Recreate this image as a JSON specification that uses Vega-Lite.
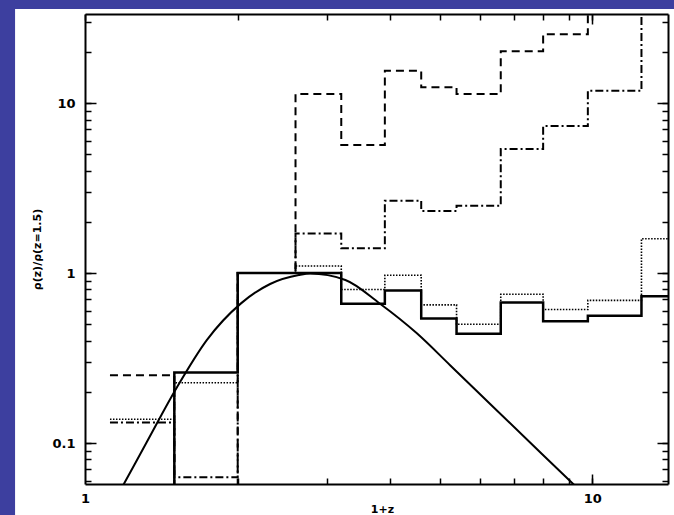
{
  "$schema": "https://vega.github.io/schema/vega-lite/v6.json",
  "width": 583,
  "height": 470,
  "autosize": {"type": "none"},
  "padding": {"left": 85, "top": 14, "right": 6, "bottom": 31},
  "background": "#3d3f9f",
  "config": {"view": {"stroke": null}},
  "datasets": {
    "hist": [
      {"series": "solid", "z1": 1.12, "rho": 0.001},
      {"series": "solid", "z1": 1.5, "rho": 0.26},
      {"series": "solid", "z1": 2.0, "rho": 1.0},
      {"series": "solid", "z1": 2.6, "rho": 1.0},
      {"series": "solid", "z1": 3.2, "rho": 0.66},
      {"series": "solid", "z1": 3.9, "rho": 0.79},
      {"series": "solid", "z1": 4.6, "rho": 0.54},
      {"series": "solid", "z1": 5.4, "rho": 0.44},
      {"series": "solid", "z1": 6.6, "rho": 0.67},
      {"series": "solid", "z1": 8.0, "rho": 0.52},
      {"series": "solid", "z1": 9.8, "rho": 0.56},
      {"series": "solid", "z1": 12.5, "rho": 0.73},
      {"series": "solid", "z1": 15, "rho": 0.73},
      {"series": "dotted", "z1": 1.12, "rho": 0.138},
      {"series": "dotted", "z1": 1.5, "rho": 0.226},
      {"series": "dotted", "z1": 2.0, "rho": 1.0},
      {"series": "dotted", "z1": 2.6, "rho": 1.1},
      {"series": "dotted", "z1": 3.2, "rho": 0.8},
      {"series": "dotted", "z1": 3.9, "rho": 0.97},
      {"series": "dotted", "z1": 4.6, "rho": 0.65},
      {"series": "dotted", "z1": 5.4, "rho": 0.5},
      {"series": "dotted", "z1": 6.6, "rho": 0.75},
      {"series": "dotted", "z1": 8.0, "rho": 0.61},
      {"series": "dotted", "z1": 9.8, "rho": 0.69},
      {"series": "dotted", "z1": 12.5, "rho": 1.59},
      {"series": "dotted", "z1": 15, "rho": 1.59},
      {"series": "dashdot", "z1": 1.12, "rho": 0.132},
      {"series": "dashdot", "z1": 1.5, "rho": 0.063},
      {"series": "dashdot", "z1": 2.0, "rho": 1.0},
      {"series": "dashdot", "z1": 2.6, "rho": 1.71},
      {"series": "dashdot", "z1": 3.2, "rho": 1.4},
      {"series": "dashdot", "z1": 3.9, "rho": 2.66},
      {"series": "dashdot", "z1": 4.6, "rho": 2.32},
      {"series": "dashdot", "z1": 5.4, "rho": 2.49},
      {"series": "dashdot", "z1": 6.6, "rho": 5.36},
      {"series": "dashdot", "z1": 8.0, "rho": 7.32},
      {"series": "dashdot", "z1": 9.8, "rho": 11.8},
      {"series": "dashdot", "z1": 12.5, "rho": 60},
      {"series": "dashdot", "z1": 15, "rho": 60},
      {"series": "dashed", "z1": 1.12, "rho": 0.25},
      {"series": "dashed", "z1": 1.5, "rho": 0.001},
      {"series": "dashed", "z1": 2.0, "rho": 1.0},
      {"series": "dashed", "z1": 2.6, "rho": 11.3},
      {"series": "dashed", "z1": 3.2, "rho": 5.66},
      {"series": "dashed", "z1": 3.9, "rho": 15.5},
      {"series": "dashed", "z1": 4.6, "rho": 12.4},
      {"series": "dashed", "z1": 5.4, "rho": 11.3},
      {"series": "dashed", "z1": 6.6, "rho": 20.2},
      {"series": "dashed", "z1": 8.0, "rho": 25.4},
      {"series": "dashed", "z1": 9.8, "rho": 60},
      {"series": "dashed", "z1": 15, "rho": 60}
    ],
    "curve": [
      {"z1": 1.146, "rho": 0.0462},
      {"z1": 1.195, "rho": 0.058},
      {"z1": 1.323, "rho": 0.101},
      {"z1": 1.517, "rho": 0.212},
      {"z1": 1.738, "rho": 0.403},
      {"z1": 2.03, "rho": 0.663},
      {"z1": 2.317, "rho": 0.862},
      {"z1": 2.64, "rho": 0.973},
      {"z1": 2.779, "rho": 0.993},
      {"z1": 3.26, "rho": 0.91},
      {"z1": 3.81, "rho": 0.662},
      {"z1": 4.51, "rho": 0.442},
      {"z1": 5.25, "rho": 0.286},
      {"z1": 6.29, "rho": 0.1696},
      {"z1": 9.17, "rho": 0.0574},
      {"z1": 10.37, "rho": 0.0403}
    ]
  },
  "layer": [
    {
      "data": {"values": [{"panel": "white"}]},
      "mark": {"type": "rect", "color": "white", "clip": false},
      "encoding": {
        "x": {"datum": 0.728, "type": "quantitative", "scale": {"type": "log", "domain": [1, 14.1], "nice": false}, "axis": null},
        "x2": {"datum": 16},
        "y": {"datum": 0.03, "type": "quantitative", "scale": {"type": "log", "domain": [0.0574, 33.4], "nice": false}, "axis": null},
        "y2": {"datum": 35.7}
      }
    },
    {
      "data": {"name": "curve"},
      "mark": {"type": "line", "color": "black", "strokeWidth": 2, "interpolate": "monotone", "clip": true},
      "encoding": {
        "x": {"field": "z1", "type": "quantitative", "scale": {"type": "log", "domain": [1, 14.1], "nice": false},
          "axis": {"orient": "top", "values": [1, 2, 3, 4, 5, 6, 7, 8, 9, 10], "labels": false, "title": null, "grid": false, "zindex": 1,
            "domainColor": "black", "domainWidth": 2, "tickColor": "black", "tickWidth": 1.5, "tickSize": -6}},
        "y": {"field": "rho", "type": "quantitative", "scale": {"type": "log", "domain": [0.0574, 33.4], "nice": false},
          "axis": {"orient": "right", "values": [0.06, 0.07, 0.08, 0.09, 0.1, 0.2, 0.3, 0.4, 0.5, 0.6, 0.7, 0.8, 0.9, 1, 2, 3, 4, 5, 6, 7, 8, 9, 10, 20, 30], "labels": false, "title": null, "grid": false, "zindex": 1,
            "domainColor": "black", "domainWidth": 2, "tickColor": "black", "tickWidth": 1.5, "tickSize": -6}}
      }
    },
    {
      "data": {"name": "hist"},
      "transform": [{"filter": "datum.series == 'solid'"}],
      "mark": {"type": "line", "color": "black", "strokeWidth": 2.5, "interpolate": "step-after", "clip": true},
      "encoding": {
        "x": {"field": "z1", "type": "quantitative", "scale": {"type": "log", "domain": [1, 14.1], "nice": false},
          "axis": {"orient": "bottom", "values": [1, 10], "grid": false, "zindex": 1, "ticks": false,
            "labelFont": "DejaVu Sans", "labelFontWeight": "bold", "labelFontSize": 13, "labelColor": "black",
            "labelPadding": 8, "labelFlush": false, "labelOverlap": false, "labelBaseline": "top",
            "domainColor": "black", "domainWidth": 2,
            "title": "1+z", "titleFont": "DejaVu Sans", "titleFontWeight": "bold", "titleFontSize": 11, "titleColor": "black",
            "titleX": 297, "titleY": 19, "titleBaseline": "top", "titleAlign": "center"}},
        "y": {"field": "rho", "type": "quantitative", "scale": {"type": "log", "domain": [0.0574, 33.4], "nice": false},
          "axis": {"orient": "left", "values": [0.1, 1, 10], "grid": false, "zindex": 1, "ticks": false,
            "labelExpr": "datum.value == 0.1 ? '0.1' : datum.value == 1 ? '1' : '10'",
            "labelFont": "DejaVu Sans", "labelFontWeight": "bold", "labelFontSize": 13, "labelColor": "black",
            "labelPadding": 10, "labelFlush": false, "labelOverlap": false,
            "domainColor": "black", "domainWidth": 2,
            "title": "ρ(z)/ρ(z=1.5)", "titleFont": "DejaVu Sans", "titleFontWeight": "bold", "titleFontSize": 11, "titleColor": "black",
            "titleX": -48, "titleY": 235, "titleBaseline": "middle", "titleAlign": "center", "titleAngle": -90}}
      }
    },
    {
      "data": {"name": "hist"},
      "transform": [{"filter": "datum.series == 'dotted'"}],
      "mark": {"type": "line", "color": "black", "strokeWidth": 1.6, "strokeDash": [1.5, 1.5], "interpolate": "step-after", "clip": true},
      "encoding": {
        "x": {"field": "z1", "type": "quantitative", "scale": {"type": "log", "domain": [1, 14.1], "nice": false},
          "axis": {"orient": "bottom", "values": [2, 3, 4, 5, 6, 7, 8, 9, 10], "labels": false, "title": null, "grid": false, "zindex": 1, "domain": false,
            "tickColor": "black", "tickWidth": 1.5, "tickSize": -6}},
        "y": {"field": "rho", "type": "quantitative", "scale": {"type": "log", "domain": [0.0574, 33.4], "nice": false},
          "axis": {"orient": "left", "values": [0.06, 0.07, 0.08, 0.09, 0.1, 0.2, 0.3, 0.4, 0.5, 0.6, 0.7, 0.8, 0.9, 1, 2, 3, 4, 5, 6, 7, 8, 9, 10, 20, 30], "labels": false, "title": null, "grid": false, "zindex": 1, "domain": false,
            "tickColor": "black", "tickWidth": 1.5, "tickSize": -6}}
      }
    },
    {
      "data": {"name": "hist"},
      "transform": [{"filter": "datum.series == 'dashdot'"}],
      "mark": {"type": "line", "color": "black", "strokeWidth": 2, "strokeDash": [8, 3, 2, 3], "interpolate": "step-after", "clip": true},
      "encoding": {
        "x": {"field": "z1", "type": "quantitative", "scale": {"type": "log", "domain": [1, 14.1], "nice": false},
          "axis": {"orient": "bottom", "values": [10], "labels": false, "title": null, "grid": false, "zindex": 1, "domain": false,
            "tickColor": "black", "tickWidth": 1.5, "tickSize": -10}},
        "y": {"field": "rho", "type": "quantitative", "scale": {"type": "log", "domain": [0.0574, 33.4], "nice": false},
          "axis": {"orient": "left", "values": [0.1, 1, 10], "labels": false, "title": null, "grid": false, "zindex": 1, "domain": false,
            "tickColor": "black", "tickWidth": 1.5, "tickSize": -11}}
      }
    },
    {
      "data": {"name": "hist"},
      "transform": [{"filter": "datum.series == 'dashed'"}],
      "mark": {"type": "line", "color": "black", "strokeWidth": 2, "strokeDash": [8, 5], "interpolate": "step-after", "clip": true},
      "encoding": {
        "x": {"field": "z1", "type": "quantitative", "scale": {"type": "log", "domain": [1, 14.1], "nice": false},
          "axis": {"orient": "top", "values": [10], "labels": false, "title": null, "grid": false, "zindex": 1, "domain": false,
            "tickColor": "black", "tickWidth": 1.5, "tickSize": -10}},
        "y": {"field": "rho", "type": "quantitative", "scale": {"type": "log", "domain": [0.0574, 33.4], "nice": false},
          "axis": {"orient": "right", "values": [0.1, 1, 10], "labels": false, "title": null, "grid": false, "zindex": 1, "domain": false,
            "tickColor": "black", "tickWidth": 1.5, "tickSize": -11}}
      }
    }
  ],
  "resolve": {"axis": {"x": "independent", "y": "independent"}}
}
